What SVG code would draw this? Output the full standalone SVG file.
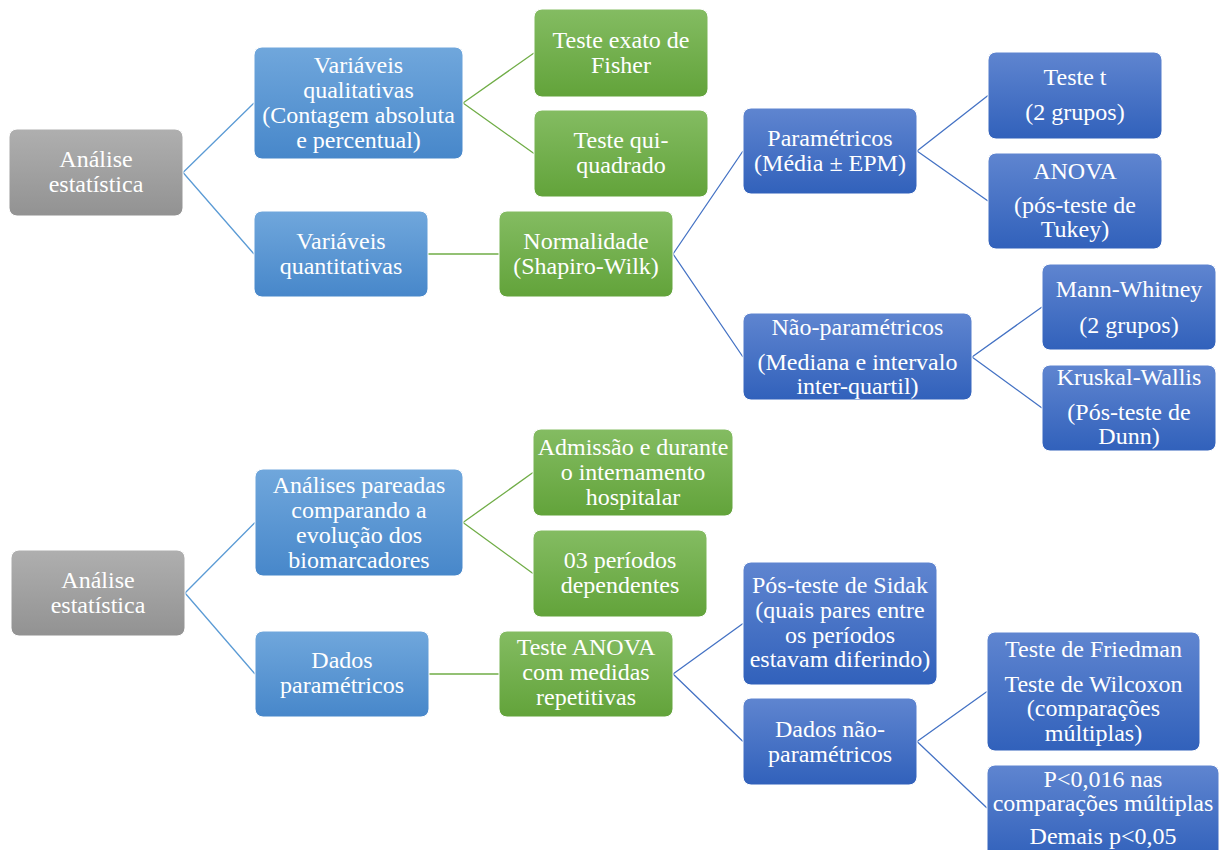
<svg xmlns="http://www.w3.org/2000/svg" width="1230" height="850" viewBox="0 0 1230 850">
<defs>
<linearGradient id="gGray" x1="0" y1="0" x2="0" y2="1"><stop offset="0" stop-color="#AFAFAF"/><stop offset="1" stop-color="#929292"/></linearGradient>
<linearGradient id="gLBlue" x1="0" y1="0" x2="0" y2="1"><stop offset="0" stop-color="#70A7DC"/><stop offset="1" stop-color="#4787CA"/></linearGradient>
<linearGradient id="gGreen" x1="0" y1="0" x2="0" y2="1"><stop offset="0" stop-color="#84BC62"/><stop offset="1" stop-color="#62A33A"/></linearGradient>
<linearGradient id="gDBlue" x1="0" y1="0" x2="0" y2="1"><stop offset="0" stop-color="#5F85D0"/><stop offset="1" stop-color="#3161BB"/></linearGradient>
</defs>
<style>
.box{stroke:#FFFFFF;stroke-width:1}
.gray{fill:url(#gGray)}
.lb{fill:url(#gLBlue)}
.gr{fill:url(#gGreen)}
.db{fill:url(#gDBlue)}
text{font-family:"Liberation Serif","Times New Roman",serif;font-size:24px;fill:#FFFFFF;text-anchor:middle}
.c1{stroke:#5B9BD5;stroke-width:1.3;fill:none}
.c2{stroke:#70AD47;stroke-width:1.3;fill:none}
.c3{stroke:#4472C4;stroke-width:1.3;fill:none}
</style>
<rect width="1230" height="850" fill="#FFFFFF"/>
<g id="connectors">
<path class="c1" d="M183 172.5L254 103M183 172.5L254 254"/>
<path class="c2" d="M463 103L534 53M463 103L534 153.5M428 254L499 254"/>
<path class="c3" d="M673 254L743 151M673 254L743 357M917 151L988 95.5M917 151L988 201M972 357L1042 307M972 357L1042 408"/>
<path class="c1" d="M185 593L255 522.5M185 593L255 674"/>
<path class="c2" d="M463 522.5L533 472.5M463 522.5L533 573.5M429 674L499 674"/>
<path class="c3" d="M673 674L743 623.5M673 674L743 741.5M917 741.5L987 691.5M917 741.5L987 808"/>
</g>
<g id="n-analise1"><rect class="box gray" x="9" y="129" width="174" height="87" rx="8"/><text x="96" y="167">Análise</text><text x="96" y="192">estatística</text></g>
<g id="n-varqual"><rect class="box lb" x="254" y="47" width="209" height="112" rx="8"/><text x="358.5" y="73">Variáveis</text><text x="358.5" y="98">qualitativas</text><text x="358.5" y="123">(Contagem absoluta</text><text x="358.5" y="148">e percentual)</text></g>
<g id="n-varquant"><rect class="box lb" x="254" y="211" width="174" height="86" rx="8"/><text x="341" y="249">Variáveis</text><text x="341" y="274">quantitativas</text></g>
<g id="n-fisher"><rect class="box gr" x="534" y="9" width="174" height="88" rx="8"/><text x="621" y="48">Teste exato de</text><text x="621" y="73">Fisher</text></g>
<g id="n-qui"><rect class="box gr" x="534" y="110" width="174" height="87" rx="8"/><text x="621" y="148">Teste qui-</text><text x="621" y="173">quadrado</text></g>
<g id="n-normal"><rect class="box gr" x="499" y="211" width="174" height="86" rx="8"/><text x="586" y="249">Normalidade</text><text x="586" y="274">(Shapiro-Wilk)</text></g>
<g id="n-param"><rect class="box db" x="743" y="108" width="174" height="86" rx="8"/><text x="830" y="146">Paramétricos</text><text x="830" y="171">(Média ± EPM)</text></g>
<g id="n-naoparam"><rect class="box db" x="743" y="313" width="229" height="87" rx="8"/><text x="857.5" y="335">Não-paramétricos</text><text x="857.5" y="370">(Mediana e intervalo</text><text x="857.5" y="394">inter-quartil)</text></g>
<g id="n-testet"><rect class="box db" x="988" y="52" width="174" height="87" rx="8"/><text x="1075" y="85">Teste t</text><text x="1075" y="120">(2 grupos)</text></g>
<g id="n-anova"><rect class="box db" x="988" y="153" width="174" height="96" rx="8"/><text x="1075" y="179">ANOVA</text><text x="1075" y="213">(pós-teste de</text><text x="1075" y="237">Tukey)</text></g>
<g id="n-mann"><rect class="box db" x="1042" y="264" width="174" height="86" rx="8"/><text x="1129" y="297">Mann-Whitney</text><text x="1129" y="333">(2 grupos)</text></g>
<g id="n-kruskal"><rect class="box db" x="1042" y="365" width="174" height="86" rx="8"/><text x="1129" y="385">Kruskal-Wallis</text><text x="1129" y="420">(Pós-teste de</text><text x="1129" y="444">Dunn)</text></g>
<g id="n-analise2"><rect class="box gray" x="11" y="550" width="174" height="86" rx="8"/><text x="98" y="588">Análise</text><text x="98" y="613">estatística</text></g>
<g id="n-pareadas"><rect class="box lb" x="255" y="469" width="208" height="107" rx="8"/><text x="359" y="493">Análises pareadas</text><text x="359" y="518">comparando a</text><text x="359" y="543">evolução dos</text><text x="359" y="568">biomarcadores</text></g>
<g id="n-dadosparam"><rect class="box lb" x="255" y="631" width="174" height="86" rx="8"/><text x="342" y="668">Dados</text><text x="342" y="693">paramétricos</text></g>
<g id="n-admissao"><rect class="box gr" x="533" y="429" width="200" height="87" rx="8"/><text x="633" y="455">Admissão e durante</text><text x="633" y="480">o internamento</text><text x="633" y="505">hospitalar</text></g>
<g id="n-periodos"><rect class="box gr" x="533" y="530" width="174" height="87" rx="8"/><text x="620" y="568">03 períodos</text><text x="620" y="593">dependentes</text></g>
<g id="n-anovarep"><rect class="box gr" x="499" y="631" width="174" height="86" rx="8"/><text x="586" y="655">Teste ANOVA</text><text x="586" y="680">com medidas</text><text x="586" y="705">repetitivas</text></g>
<g id="n-sidak"><rect class="box db" x="743" y="562" width="194" height="123" rx="8"/><text x="840" y="593">Pós-teste de Sidak</text><text x="840" y="618">(quais pares entre</text><text x="840" y="643">os períodos</text><text x="840" y="667">estavam diferindo)</text></g>
<g id="n-dadosnao"><rect class="box db" x="743" y="698" width="174" height="87" rx="8"/><text x="830" y="737">Dados não-</text><text x="830" y="762">paramétricos</text></g>
<g id="n-friedman"><rect class="box db" x="987" y="632" width="213" height="119" rx="8"/><text x="1093.5" y="657">Teste de Friedman</text><text x="1093.5" y="692">Teste de Wilcoxon</text><text x="1093.5" y="716">(comparações</text><text x="1093.5" y="741">múltiplas)</text></g>
<g id="n-p"><rect class="box db" x="987" y="765" width="232" height="95" rx="8"/><text x="1103" y="787">P&lt;0,016 nas</text><text x="1103" y="811">comparações múltiplas</text><text x="1103" y="844">Demais p&lt;0,05</text></g>
</svg>
